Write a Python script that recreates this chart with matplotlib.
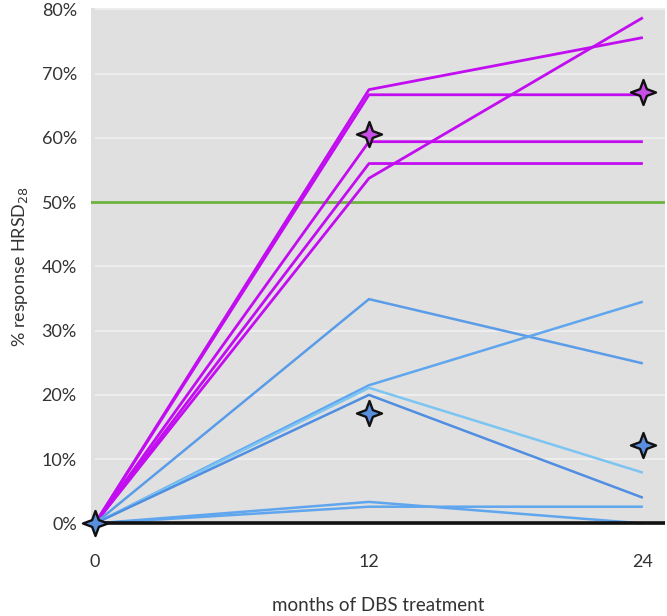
import matplotlib
matplotlib.use("Agg")
import matplotlib.pyplot as plt
from matplotlib.path import Path
import numpy as np

months = [0, 12, 24]
xtick_labels = ["0", "12", "24"]
yticks = [0, 10, 20, 30, 40, 50, 60, 70, 80]

# responders (magenta), % response HRSD28
resp_1 = [0, 67.5, 75.6]
resp_2 = [0, 66.7, 66.7]
resp_3 = [0, 59.4, 59.4]
resp_4 = [0, 56.0, 56.0]
resp_5 = [0, 53.7, 78.7]
responders = [resp_1, resp_2, resp_3, resp_4, resp_5]

# non-responders (blue)
non_1 = [0, 34.9, 24.9]
non_2 = [0, 21.5, 34.5]
non_3 = [0, 21.1, 7.9]
non_4 = [0, 20.0, 4.0]
non_5 = [0, 3.35, 0.0]
non_6 = [0, 2.6, 2.6]
nonresponders = [non_1, non_2, non_3, non_4, non_5, non_6]
non_colors = ["#5a9ce8", "#5fa6ee", "#7cc4f2", "#4f8ee0", "#5fa6ee", "#5fa6ee"]

# mean markers
resp_mean_x = [12, 24]
resp_mean_y = [60.6, 67.2]
non_mean_x = [0, 12, 24]
non_mean_y = [0, 17.2, 12.2]

threshold = 50

fig = plt.figure(figsize=(6.67, 6.16), dpi=100)
ax = fig.add_axes([0.136, 0.1477, 0.861, 0.8393])
ax.set_facecolor("#e0e0e0")

ax.set_xlim(-0.19, 24.97)
ax.set_ylim(-0.25, 80.2)

for yv in yticks[1:]:
    ax.hlines(yv, 0, 24.97, color="#f2f2f2", lw=1.1, zorder=1)

ax.axhline(threshold, color="#6db33f", lw=2, zorder=2)

for s in responders:
    ax.plot(months, s, color="#c20df0", lw=2, zorder=3, solid_capstyle="butt")
for s, c in zip(nonresponders, non_colors):
    ax.plot(months, s, color=c, lw=1.8, zorder=3, solid_capstyle="butt")

ax.hlines(0, 0, 24.97, color="#111111", lw=2.6, zorder=4)

k = 0.27
star = Path([(0, 1), (k, k), (1, 0), (k, -k), (0, -1),
             (-k, -k), (-1, 0), (-k, k), (0, 1)],
            [Path.MOVETO] + [Path.LINETO] * 7 + [Path.CLOSEPOLY])

ax.plot(resp_mean_x, resp_mean_y, linestyle="none", marker=star, markersize=18,
        markerfacecolor="#c84ee8", markeredgecolor="#111111", markeredgewidth=1.7, zorder=6)
ax.plot(non_mean_x, non_mean_y, linestyle="none", marker=star, markersize=18,
        markerfacecolor="#5a8fe0", markeredgecolor="#111111", markeredgewidth=1.7, zorder=6,
        clip_on=False)

for sp in ax.spines.values():
    sp.set_visible(False)

font = "Lato"
ax.set_xticks(months)
ax.set_xticklabels(xtick_labels, fontsize=13, family=font, color="#333333")
ax.set_yticks(yticks)
ax.set_yticklabels([f"{v}%" for v in yticks], fontsize=13, family=font, color="#333333")
ax.tick_params(length=0, pad=10)
ax.tick_params(axis="x", pad=21)

ax.set_xlabel("months of DBS treatment", fontsize=13.5, family=font, color="#333333", labelpad=19)
ax.set_ylabel("% response HRSD$_{28}$", fontsize=13, family=font, color="#333333", labelpad=8)

fig.savefig("out.png", dpi=100)
